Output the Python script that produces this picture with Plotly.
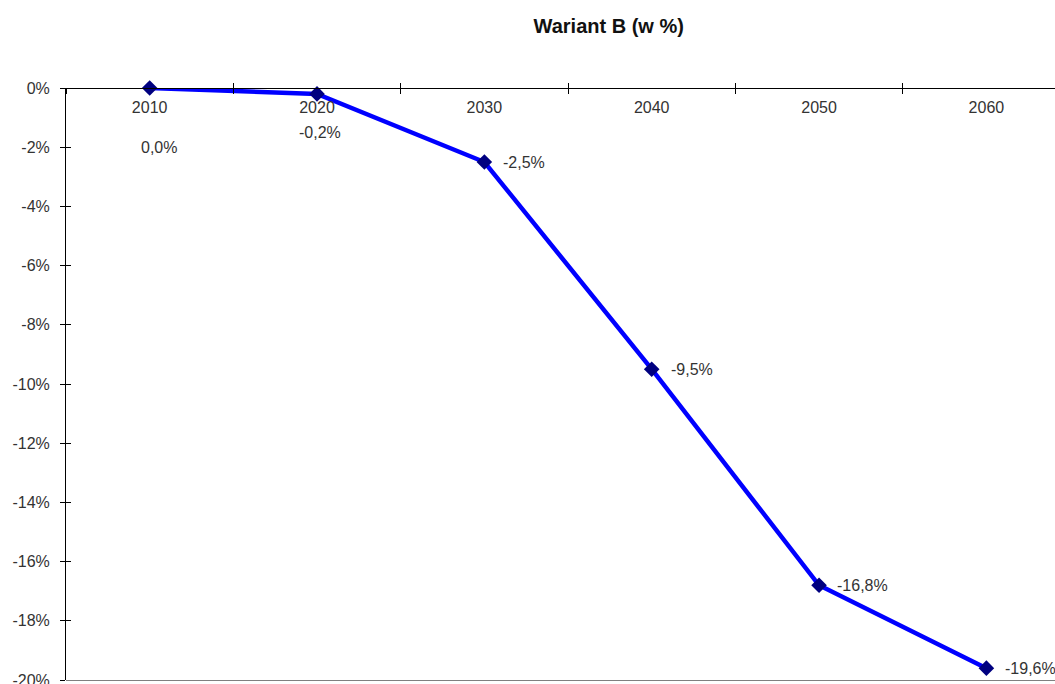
import plotly.graph_objects as go

# Scenario B: change relative to 2010, in percent
years = ["2010", "2020", "2030", "2040", "2050", "2060"]
change_pct = [0.0, -0.2, -2.5, -9.5, -16.8, -19.6]
y_ticks = [0, -2, -4, -6, -8, -10, -12, -14, -16, -18, -20]

# label placement per point (offsets in px, anchor)
label_shift = [(9, -59, "center"), (3, -39, "center"), (17, 0, "left"),
               (17, 0, "left"), (16, 0, "left"), (17, 0, "left")]

X_RANGE = [-0.5, 5.41]
FONT = "Liberation Sans, Arial, sans-serif"

fig = go.Figure()
fig.add_trace(go.Scatter(
    x=years, y=change_pct, mode="lines+markers",
    line=dict(color="#0000ff", width=4.5),
    marker=dict(symbol="diamond", size=12, color="#000080"),
    cliponaxis=False, showlegend=False,
))

for i, (v, (dx, dy, anchor)) in enumerate(zip(change_pct, label_shift)):
    fig.add_annotation(
        x=i, y=v, xref="x", yref="y",
        text=f"{v:.1f}%".replace(".", ","),
        showarrow=False, xanchor=anchor, yanchor="middle",
        xshift=dx, yshift=dy,
        font=dict(family=FONT, size=16, color="#333333"),
    )

fig.update_layout(
    width=1055, height=684,
    margin=dict(l=66, r=0, t=88, b=4),
    paper_bgcolor="white", plot_bgcolor="white",
    font=dict(family=FONT, color="#333333"),
    title=dict(text="<b>Wariant B (w %)</b>", x=0.577, xanchor="center",
               y=0.962, yanchor="middle",
               font=dict(family=FONT, size=20, color="#111111")),
    # category axis drawn along the 0% line, labels below it
    xaxis=dict(
        type="category", categoryorder="array", categoryarray=years,
        range=X_RANGE, anchor="free", position=1, side="bottom",
        showline=True, linecolor="black", linewidth=1,
        tickson="boundaries", ticks="outside", ticklen=5, tickcolor="black",
        ticklabelstandoff=5, automargin=False,
        showgrid=False, zeroline=False,
        tickfont=dict(family=FONT, size=16, color="#333333"),
    ),
    # upward halves of the crossing tick marks
    xaxis2=dict(
        overlaying="x", anchor="free", position=1, side="top",
        range=X_RANGE, tickvals=[0.5, 1.5, 2.5, 3.5, 4.5],
        ticks="outside", ticklen=5, tickcolor="black", automargin=False,
        showticklabels=False, showline=False, showgrid=False, zeroline=False,
    ),
    # grey frame line along the bottom
    xaxis3=dict(
        overlaying="x", anchor="free", position=0, side="bottom",
        range=X_RANGE, showline=True, linecolor="#808080", linewidth=1,
        ticks="", showticklabels=False, showgrid=False, zeroline=False,
        automargin=False,
    ),
    yaxis=dict(
        range=[-20, 0], tickvals=y_ticks,
        ticktext=[f"{t}%" for t in y_ticks],
        showline=True, linecolor="black", linewidth=1,
        ticks="outside", ticklen=5, tickcolor="black",
        ticklabelstandoff=7, ticklabeloverflow="allow", automargin=False,
        showgrid=False, zeroline=False,
        tickfont=dict(family=FONT, size=16, color="#333333"),
    ),
    yaxis2=dict(
        overlaying="y", anchor="x", side="left", range=[-20, 0],
        tickvals=y_ticks, ticks="inside", ticklen=5, tickcolor="black",
        automargin=False,
        showticklabels=False, showline=False, showgrid=False, zeroline=False,
    ),
)

# register the helper axes so they get drawn
fig.add_trace(go.Scatter(x=[None], y=[None], xaxis="x2", yaxis="y2",
                         showlegend=False, hoverinfo="skip"))
fig.add_trace(go.Scatter(x=[None], y=[None], xaxis="x3", yaxis="y",
                         showlegend=False, hoverinfo="skip"))

fig.write_html("out.html")
